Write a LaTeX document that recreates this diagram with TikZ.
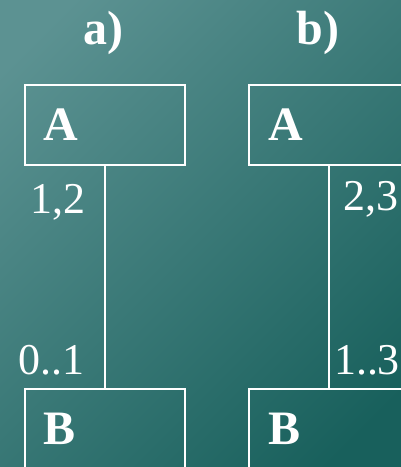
\documentclass[tikz,border=0pt]{standalone}
\usepackage{fontspec}
\setmainfont{Liberation Serif}
\definecolor{slatelight}{RGB}{92,146,146}
\definecolor{slatedark}{RGB}{24,96,92}
\tikzset{
  classbox/.style={draw=white, line width=2pt, minimum width=160pt, minimum height=80pt,
    text width=122pt, inner xsep=19pt, align=left, text=white,
    font=\fontsize{48}{50}\selectfont\bfseries},
  assoc/.style={draw=white, line width=2pt},
  multlabel/.style={text=white, inner sep=0pt, anchor=base, font=\fontsize{44}{46}\selectfont},
  partlabel/.style={text=white, inner sep=0pt, anchor=base, font=\fontsize{48}{50}\selectfont\bfseries},
}
\begin{document}
\begin{tikzpicture}[x=1pt, y=-1pt]
\useasboundingbox (0,0) rectangle (400,467);
\shade[top color=slatelight, bottom color=slatedark, shading angle=45] (-40,-40) rectangle (440,507);
% a)
\node[partlabel] (parta) at (103,44) {a)};
\node[classbox] (Aa) at (105,125) {A};
\node[classbox] (Ba) at (105,429) {B};
\draw[assoc] (Aa.south) -- (Ba.north);
\node[multlabel] (multAa) at (58,213) {1,2};
\node[multlabel] (multBa) at (52,374) {0..1};
% b)
\node[partlabel] (partb) at (318,44) {b)};
\node[classbox] (Ab) at (329,125) {A};
\node[classbox] (Bb) at (329,429) {B};
\draw[assoc] (Ab.south) -- (Bb.north);
\node[multlabel] (multAb) at (371,210) {2,3};
\node[multlabel] (multBb) at (367,374) {1..3};
\end{tikzpicture}
\end{document}
